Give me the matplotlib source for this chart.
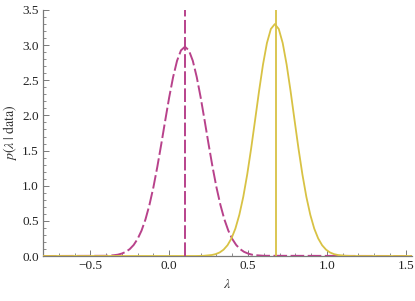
import matplotlib
matplotlib.use("Agg")
import matplotlib.pyplot as plt
from matplotlib.ticker import MultipleLocator
import numpy as np

# posterior curves (lambda, density)
lam_a = [-0.80, -0.40, -0.35, -0.325, -0.30, -0.275, -0.25, -0.225, -0.20, -0.175,
         -0.15, -0.125, -0.10, -0.075, -0.05, -0.025, 0.0, 0.025, 0.05, 0.075,
         0.10, 0.125, 0.15, 0.175, 0.20, 0.225, 0.25, 0.275, 0.30, 0.325,
         0.35, 0.375, 0.40, 0.425, 0.45, 0.475, 0.50, 0.525, 0.55, 0.60, 1.55]
dens_a = [0.0, 0.003, 0.011, 0.019, 0.035, 0.059, 0.098, 0.157, 0.243, 0.362,
          0.522, 0.727, 0.977, 1.269, 1.591, 1.927, 2.254, 2.545, 2.777, 2.926,
          2.977, 2.926, 2.777, 2.545, 2.254, 1.927, 1.591, 1.269, 0.977, 0.727,
          0.522, 0.362, 0.243, 0.157, 0.098, 0.059, 0.035, 0.019, 0.011, 0.003, 0.0]

lam_b = [-0.80, 0.17, 0.22, 0.27, 0.295, 0.32, 0.345, 0.37, 0.395, 0.42,
         0.445, 0.47, 0.495, 0.52, 0.545, 0.57, 0.595, 0.62, 0.645, 0.67,
         0.695, 0.72, 0.745, 0.77, 0.795, 0.82, 0.845, 0.87, 0.895, 0.92,
         0.945, 0.97, 0.995, 1.02, 1.045, 1.07, 1.12, 1.17, 1.55]
dens_b = [0.0, 0.0, 0.003, 0.014, 0.027, 0.050, 0.090, 0.153, 0.250, 0.390,
          0.586, 0.842, 1.160, 1.531, 1.935, 2.345, 2.723, 3.030, 3.230, 3.300,
          3.230, 3.030, 2.723, 2.345, 1.935, 1.531, 1.160, 0.842, 0.586, 0.390,
          0.250, 0.153, 0.090, 0.050, 0.027, 0.014, 0.003, 0.0, 0.0]

mode_a = 0.10
mode_b = 0.675

MAGENTA = "#b8428b"
YELLOW = "#d8c244"
AXCOL = "#7a7a7a"

plt.rcParams["font.family"] = ["Liberation Serif", "DejaVu Serif"]
plt.rcParams["mathtext.fontset"] = "stix"

fig = plt.figure(figsize=(4.15, 3.01), dpi=100)
ax = fig.add_axes([0.1036, 0.1495, 0.8892, 0.8173])

ax.plot(lam_a, dens_a, color=MAGENTA, lw=1.4, dashes=(7, 1.8), zorder=3)
ax.plot(lam_b, dens_b, color=YELLOW, lw=1.3, zorder=3)
ax.axvline(mode_a, color=MAGENTA, lw=1.4, dashes=(7, 1.8), zorder=3)
ax.axvline(mode_b, color=YELLOW, lw=1.3, zorder=3)

ax.set_xlim(-0.8, 1.54)
ax.set_ylim(0, 3.5)

for s in ["top", "right"]:
    ax.spines[s].set_visible(False)
for s in ["left", "bottom"]:
    ax.spines[s].set_color(AXCOL)
    ax.spines[s].set_linewidth(0.9)

ax.xaxis.set_major_locator(MultipleLocator(0.5))
ax.xaxis.set_minor_locator(MultipleLocator(0.1))
ax.yaxis.set_major_locator(MultipleLocator(0.5))
ax.yaxis.set_minor_locator(MultipleLocator(0.1))
ax.tick_params(which="both", direction="in", color=AXCOL, labelsize=9.5,
               labelcolor="#222222", pad=3)
ax.tick_params(which="major", length=4, width=0.7)
ax.tick_params(which="minor", length=2.2, width=0.6)

ax.set_xticks([-0.5, 0.0, 0.5, 1.0, 1.5])
ax.set_xticklabels(["\u22120.5", "0.0", "0.5", "1.0", "1.5"])
ax.set_yticks(np.arange(0, 3.51, 0.5))
ax.set_yticklabels([f"{v:.1f}" for v in np.arange(0, 3.51, 0.5)])

ax.set_xlabel(r"$\lambda$", fontsize=10, color="#333333", labelpad=4)
ax.set_ylabel(r"$p(\lambda\;|\;\mathrm{data})$", fontsize=10, color="#333333",
              labelpad=2)

fig.savefig("out.png", dpi=100)
